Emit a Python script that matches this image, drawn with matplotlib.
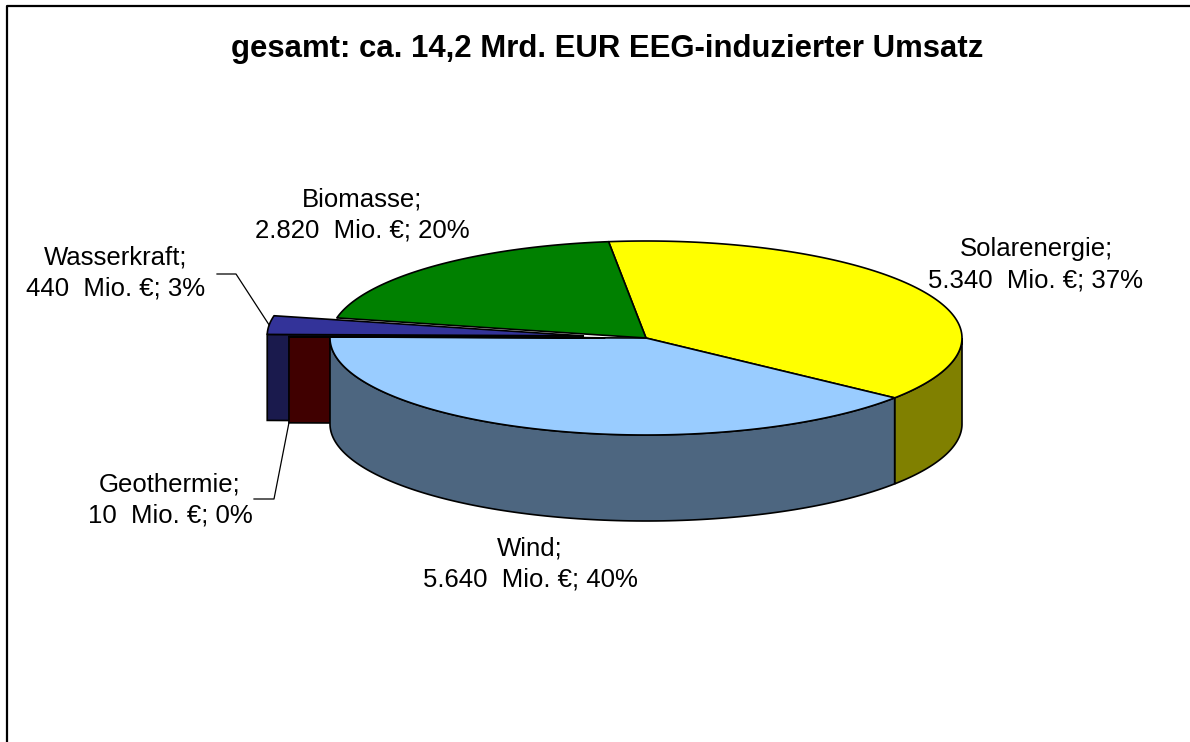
import numpy as np
import matplotlib.pyplot as plt
from matplotlib.patches import Polygon

# data, in clockwise order starting at the top
categories = ['Solarenergie', 'Wind', 'Geothermie', 'Wasserkraft', 'Biomasse']
values     = [5340, 5640, 10, 440, 2820]        # Mio. EUR
explode    = [0.0, 0.0, 0.13, 0.2, 0.0]
top_colors = ['#FFFF00', '#99CCFF', '#800000', '#333399', '#008000']
title = 'gesamt: ca. 14,2 Mrd. EUR EEG-induzierter Umsatz'

# label layout (figure pixel coords)
label_pos = [(1036, 265), (530, 564), (170, 500), (116, 273), (362, 215)]
leader_elbow = {2: [(254, 499), (274, 499)], 3: [(217, 274), (236, 274)]}

W, H = 1190, 742
cx, cy, rx, ry, depth = 646, 338, 316, 97, 86
start = 96.8
lw = 1.2

fig = plt.figure(figsize=(W/100, H/100), dpi=100)
ax = fig.add_axes([0, 0, 1, 1])
ax.set_xlim(0, W)
ax.set_ylim(H, 0)
ax.axis('off')


def rim(a, off=(0, 0), r=1.0, z=0):
    t = np.radians(a)
    return (cx + off[0] + r*rx*np.cos(t), cy + off[1] - r*ry*np.sin(t) + z)


def shade(c):
    c = np.array(plt.matplotlib.colors.to_rgb(c))
    return tuple(c*0.5)


fracs = np.array(values) / sum(values)
spans = fracs * 360
his = start - np.concatenate([[0], np.cumsum(spans)[:-1]])
los = his - spans
mids = (his + los) / 2
offs = [(e*rx*np.cos(np.radians(m)), -e*ry*np.sin(np.radians(m)))
        for e, m in zip(explode, mids)]

z = 1
# radial faces of exploded slices, back to front
faces = []
for i in range(len(values)):
    o = offs[i]
    for a, vis in [(his[i], np.cos(np.radians(his[i])) < 0),
                   (los[i], np.cos(np.radians(los[i])) > 0)]:
        if not vis or explode[i] == 0:
            continue
        p0 = (cx + o[0], cy + o[1])
        p1 = rim(a, o)
        poly = [p0, p1, (p1[0], p1[1] + depth), (p0[0], p0[1] + depth)]
        faces.append((p1[1], poly, shade(top_colors[i])))
for _, poly, col in sorted(faces, key=lambda f: f[0]):
    ax.add_patch(Polygon(poly, closed=True, fc=col, ec='black', lw=lw, zorder=z))
    z += 1

# outer walls (front half only)
for i in range(len(values)):
    for k in range(-2, 2):
        a0 = max(los[i], -180 + 360*k)
        a1 = min(his[i], 0 + 360*k)
        if a1 <= a0:
            continue
        aa = np.linspace(a0, a1, 120)
        upper = [rim(a, offs[i]) for a in aa]
        lower = [rim(a, offs[i], z=depth) for a in aa[::-1]]
        ax.add_patch(Polygon(upper + lower, closed=True, fc=shade(top_colors[i]),
                             ec='black', lw=lw, zorder=z))
        z += 1

# top faces
for i in range(len(values)):
    o = offs[i]
    aa = np.linspace(los[i], his[i], max(3, int(spans[i]*2)))
    poly = [(cx + o[0], cy + o[1])] + [rim(a, o) for a in aa]
    ax.add_patch(Polygon(poly, closed=True, fc=top_colors[i], ec='black',
                         lw=lw, joinstyle='round', zorder=z))
    z += 1

# labels
total = sum(values)
for i, (name, v) in enumerate(zip(categories, values)):
    txt = '{};\n{}  Mio. €; {}%'.format(name, f'{v:,}'.replace(',', '.'),
                                         round(100*v/total))
    ax.text(label_pos[i][0], label_pos[i][1], txt, ha='center', va='center',
            fontsize=18.5, family='Liberation Sans', linespacing=1.38, zorder=z)

# leader lines
for i, elbow in leader_elbow.items():
    if i == 3:
        end = rim(mids[i], offs[i])
    else:
        end = rim(his[i], offs[i], z=depth)
    xs = [p[0] for p in elbow] + [end[0]]
    ys = [p[1] for p in elbow] + [end[1]]
    ax.plot(xs, ys, color='black', lw=0.9, zorder=z)

ax.text(607, 57, title, ha='center', va='baseline', fontsize=22.4,
        fontweight='bold', family='Liberation Sans')

# chart frame
ax.plot([7, 7, W + 5], [H + 5, 6, 6], color='black', lw=1.6, clip_on=False)

fig.savefig('out.png', dpi=100)
